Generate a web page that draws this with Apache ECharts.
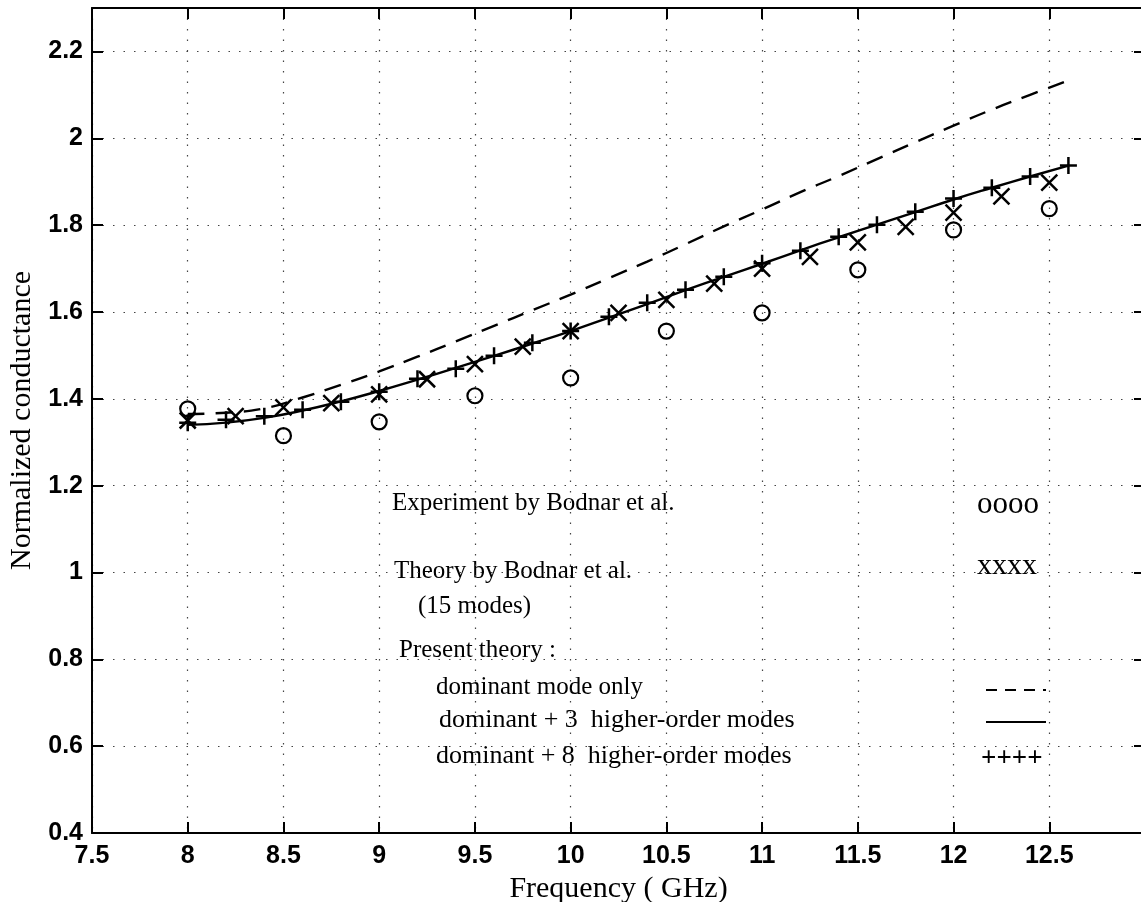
<!DOCTYPE html>
<html>
<head>
<meta charset="utf-8">
<script src="https://cdn.jsdelivr.net/npm/echarts@6/dist/echarts.min.js"></script>
<style>html,body{margin:0;padding:0;background:#fff;}#c{width:1141px;height:902px;}</style>
</head>
<body>
<div id="c"></div>
<script>
// ---- data ----
const freqLine = [8.0,8.2,8.4,8.6,8.8,9.0,9.2,9.4,9.6,9.8,10.0,10.2,10.4,10.6,10.8,11.0,11.2,11.4,11.6,11.8,12.0,12.2,12.4,12.6];
const dominantOnly = [1.365,1.368,1.378,1.403,1.432,1.463,1.497,1.532,1.568,1.604,1.640,1.678,1.716,1.756,1.797,1.836,1.876,1.913,1.952,1.991,2.029,2.066,2.100,2.133];
const plus3Modes = [1.340,1.345,1.356,1.373,1.394,1.418,1.444,1.471,1.499,1.527,1.556,1.587,1.618,1.650,1.681,1.711,1.742,1.772,1.801,1.830,1.859,1.886,1.912,1.937];
const plus8Modes = [1.345,1.352,1.360,1.375,1.393,1.416,1.446,1.469,1.499,1.529,1.556,1.589,1.621,1.651,1.681,1.712,1.741,1.773,1.801,1.831,1.861,1.886,1.912,1.937];
const freqTheory = [8.0,8.25,8.5,8.75,9.0,9.25,9.5,9.75,10.0,10.25,10.5,10.75,11.0,11.25,11.5,11.75,12.0,12.25,12.5];
const bodnarTheory = [1.350,1.360,1.380,1.390,1.410,1.445,1.480,1.520,1.556,1.598,1.628,1.665,1.700,1.727,1.760,1.796,1.829,1.866,1.898];
const freqExp = [8.0,8.5,9.0,9.5,10.0,10.5,11.0,11.5,12.0,12.5];
const bodnarExp = [1.377,1.315,1.347,1.407,1.448,1.556,1.598,1.697,1.789,1.838];
const xTickLabels = ['7.5','8','8.5','9','9.5','10','10.5','11','11.5','12','12.5'];
const yTickLabels = ['0.4','0.6','0.8','1','1.2','1.4','1.6','1.8','2','2.2'];

const pairs = (xs, ys) => xs.map((x, i) => [x, ys[i]]);
const chart = echarts.init(document.getElementById('c'), null, {renderer: 'canvas'});

const tickFont = {fontFamily: '"Liberation Sans", Arial, sans-serif', fontWeight: 'bold', fontSize: 25, color: '#000'};
const serif = '"Liberation Serif", "Times New Roman", serif';
const grid = {left: 92, right: -4, top: 8, bottom: 69, outerBoundsMode: 'none', containLabel: false};
const axisLine = {show: true, lineStyle: {color: '#000', width: 2}};
const tick = {show: true, inside: true, length: 11, lineStyle: {color: '#000', width: 2}};
const dotted = {show: true, lineStyle: {color: '#444', width: 1.2, type: [1.5, 9]}};

const fmtX = v => { const s = String(+v.toFixed(2)); return xTickLabels.includes(s) ? s : ''; };
const fmtY = v => { const s = String(+v.toFixed(2)); return yTickLabels.includes(s) ? s : ''; };

const plusPath = 'path://M5,0L5,10M0,5L10,5';
const crossPath = 'path://M0,0L10,10M10,0L0,10';
const stroke = {color: 'rgba(0,0,0,0)', borderColor: '#000', borderWidth: 2.5, opacity: 1};

const legendItems = [
  {t: 'Experiment by Bodnar et al.', x: 392, y: 503, f: '25px ' + serif},
  {t: 'oooo', x: 977, y: 505, f: '31px ' + serif},
  {t: 'Theory by Bodnar et al.', x: 394, y: 571, f: '25px ' + serif},
  {t: 'xxxx', x: 977, y: 566, f: '30px ' + serif},
  {t: '(15 modes)', x: 418, y: 606, f: '25px ' + serif},
  {t: 'Present theory :', x: 399, y: 650, f: '25px ' + serif},
  {t: 'dominant mode only', x: 436, y: 687, f: '25px ' + serif},
  {t: 'dominant + 3  higher-order modes', x: 439, y: 720, f: '26px ' + serif},
  {t: 'dominant + 8  higher-order modes', x: 436, y: 756, f: '26px ' + serif},
  {t: '++++', x: 981, y: 759, f: 'bold 27px ' + serif}
];

const graphics = legendItems.map(it => ({
  type: 'text', x: it.x, y: it.y, silent: true,
  style: {text: it.t, fill: '#000', font: it.f, verticalAlign: 'middle', align: 'left'}
}));
graphics.push({type: 'line', silent: true, shape: {x1: 986, y1: 690, x2: 1046, y2: 690},
  style: {stroke: '#000', lineWidth: 2, lineDash: [11, 8]}});
graphics.push({type: 'line', silent: true, shape: {x1: 986, y1: 722, x2: 1046, y2: 722},
  style: {stroke: '#000', lineWidth: 2}});

chart.setOption({
  backgroundColor: '#fff',
  animation: false,
  grid: grid,
  xAxis: [
    {type: 'value', min: 7.5, max: 13, interval: 0.5, position: 'bottom',
     name: 'Frequency ( GHz)', nameLocation: 'middle', nameGap: 38,
     nameTextStyle: {fontFamily: serif, fontSize: 30, color: '#000'},
     axisLine: axisLine, axisTick: tick, splitLine: dotted,
     axisLabel: Object.assign({margin: 11, formatter: fmtX}, tickFont)},
    {type: 'value', min: 7.5, max: 13, interval: 0.5, position: 'top',
     axisLine: axisLine, axisTick: tick, splitLine: {show: false}, axisLabel: {show: false}}
  ],
  yAxis: [
    {type: 'value', min: 0.4, max: 2.3, interval: 0.2, position: 'left',
     name: 'Normalized conductance', nameLocation: 'middle', nameGap: 54,
     nameTextStyle: {fontFamily: serif, fontSize: 30, color: '#000'},
     axisLine: axisLine, axisTick: tick, splitLine: dotted,
     axisLabel: Object.assign({margin: 9, formatter: fmtY}, tickFont)},
    {type: 'value', min: 0.4, max: 2.3, interval: 0.2, position: 'right',
     axisLine: axisLine, axisTick: tick, splitLine: {show: false}, axisLabel: {show: false}}
  ],
  series: [
    {name: 'dominant mode only', type: 'line', data: pairs(freqLine, dominantOnly), smooth: true,
     showSymbol: false, symbol: 'none', lineStyle: {color: '#000', width: 2.4, type: [17, 11]}},
    {name: 'dominant + 3 higher-order modes', type: 'line', data: pairs(freqLine, plus3Modes), smooth: true,
     showSymbol: false, symbol: 'none', lineStyle: {color: '#000', width: 2.4}},
    {name: 'dominant + 8 higher-order modes', type: 'scatter', data: pairs(freqLine, plus8Modes),
     symbol: plusPath, symbolSize: 17, itemStyle: stroke},
    {name: 'Theory by Bodnar et al.', type: 'scatter', data: pairs(freqTheory, bodnarTheory),
     symbol: crossPath, symbolSize: 16, itemStyle: stroke},
    {name: 'Experiment by Bodnar et al.', type: 'scatter', data: pairs(freqExp, bodnarExp),
     symbol: 'circle', symbolSize: 15, itemStyle: {color: 'rgba(0,0,0,0)', borderColor: '#000', borderWidth: 2.2, opacity: 1}}
  ],
  graphic: graphics
});
</script>
</body>
</html>
